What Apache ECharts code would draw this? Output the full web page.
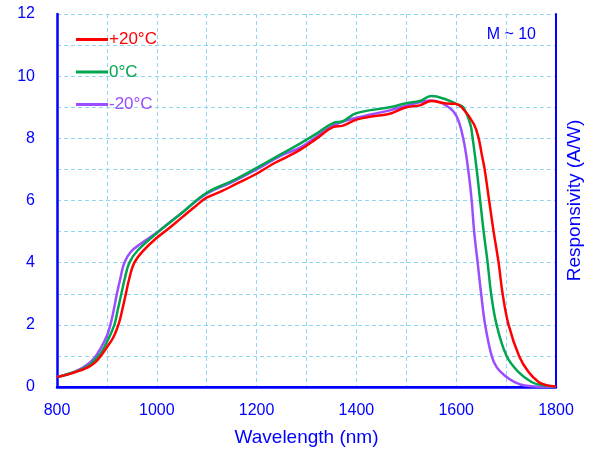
<!DOCTYPE html>
<html>
<head>
<meta charset="utf-8">
<script src="https://cdn.jsdelivr.net/npm/echarts@6/dist/echarts.min.js"></script>
<style>
  html, body { margin: 0; padding: 0; background: #fff; }
  #chart { width: 593px; height: 455px; }
</style>
</head>
<body>
<div id="chart"></div>
<script>
// wavelength (nm) / responsivity (A/W)
var wlP20 = [800, 837, 863, 877, 887, 900, 913, 924, 931, 938, 945, 955, 975, 1000, 1020, 1050, 1080, 1100, 1130, 1160, 1200, 1230, 1253, 1287, 1320, 1353, 1373, 1400, 1430, 1467, 1500, 1527, 1550, 1580, 1598, 1611, 1635, 1645, 1651, 1657, 1666, 1675, 1685, 1693, 1705, 1726, 1745, 1765, 1780, 1800];
var rP20  = [0.32, 0.48, 0.64, 0.8, 0.98, 1.28, 1.6, 2.05, 2.5, 3.0, 3.5, 4.0, 4.42, 4.8, 5.05, 5.45, 5.85, 6.09, 6.3, 6.54, 6.86, 7.15, 7.34, 7.63, 7.99, 8.36, 8.41, 8.6, 8.7, 8.79, 9.0, 9.06, 9.2, 9.12, 9.11, 9.0, 8.47, 8.0, 7.5, 7.0, 6.0, 5.0, 4.0, 3.0, 2.0, 1.0, 0.48, 0.16, 0.06, 0.02];

var wl0 = [800, 837, 863, 877, 887, 900, 915, 922, 929, 936, 945, 962, 1000, 1050, 1100, 1150, 1200, 1250, 1287, 1320, 1353, 1373, 1400, 1467, 1500, 1527, 1550, 1580, 1601, 1614, 1628, 1633, 1641, 1648, 1655, 1663, 1670, 1681, 1701, 1725, 1751, 1771, 1800];
var r0  = [0.32, 0.49, 0.68, 0.9, 1.07, 1.45, 2.0, 2.5, 3.0, 3.5, 4.0, 4.4, 4.95, 5.6, 6.25, 6.62, 7.05, 7.5, 7.83, 8.15, 8.49, 8.55, 8.81, 9.0, 9.13, 9.2, 9.36, 9.25, 9.1, 9.0, 8.47, 8.0, 7.0, 6.0, 5.0, 4.0, 3.0, 2.0, 1.0, 0.48, 0.16, 0.06, 0.02];

var wlM20 = [800, 837, 863, 877, 887, 900, 907, 914, 920, 927, 935, 948, 967, 1003, 1050, 1100, 1150, 1200, 1250, 1287, 1320, 1353, 1400, 1467, 1500, 1550, 1585, 1601, 1614, 1624, 1631, 1636, 1643, 1650, 1658, 1671, 1681, 1697, 1717, 1737, 1800];
var rM20  = [0.32, 0.5, 0.75, 0.98, 1.23, 1.65, 2.0, 2.5, 3.0, 3.5, 4.0, 4.35, 4.6, 5.0, 5.6, 6.22, 6.58, 7.0, 7.45, 7.7, 8.05, 8.41, 8.66, 8.9, 9.05, 9.22, 9.0, 8.7, 8.0, 7.0, 6.0, 5.0, 4.0, 3.0, 2.0, 1.0, 0.64, 0.37, 0.16, 0.05, 0];

var seriesNames = ['+20°C', '0°C', '-20°C'];
var seriesColors = ['#ff0000', '#00a550', '#9b4dff'];
var xTicks = [800, 1000, 1200, 1400, 1600, 1800];
var yTicks = [0, 2, 4, 6, 8, 10, 12];

var blue = '#0000ff';
var gridColor = '#8fd6f2';

function pairs(xs, ys) {
    var out = [];
    for (var i = 0; i < xs.length; i++) out.push([xs[i], ys[i]]);
    return out;
}

var allData = [pairs(wlP20, rP20), pairs(wl0, r0), pairs(wlM20, rM20)];

var series = [];
for (var k = 0; k < seriesNames.length; k++) {
    series.push({
        name: seriesNames[k],
        type: 'line',
        data: allData[k],
        symbol: 'none',
        smooth: 0.4,
        z: 5 - k,
        lineStyle: { color: seriesColors[k], width: 2.5 },
        itemStyle: { color: seriesColors[k] }
    });
}

var legendData = [];
for (var k = 0; k < seriesNames.length; k++) {
    legendData.push({ name: seriesNames[k], textStyle: { color: seriesColors[k] } });
}

var option = {
    animation: false,
    backgroundColor: '#fff',
    textStyle: { fontFamily: 'Liberation Sans, Arial, sans-serif' },
    grid: { left: 57, right: 37, top: 14, bottom: 68, outerBoundsMode: 'none' },
    legend: {
        orient: 'vertical',
        left: 71,
        top: 26,
        icon: 'rect',
        itemWidth: 32,
        itemHeight: 3,
        itemGap: 15.5,
        data: legendData,
        textStyle: { fontSize: 17, padding: [0, 0, 0, -4] }
    },
    graphic: [{
        type: 'text',
        right: 57,
        top: 27,
        style: { text: 'M ~ 10', fill: blue, fontSize: 16, fontFamily: 'Liberation Sans, Arial, sans-serif' }
    }],
    xAxis: [{
        type: 'value',
        min: 800,
        max: 1800,
        interval: 100,
        name: 'Wavelength (nm)',
        nameLocation: 'middle',
        nameGap: 41,
        nameTextStyle: { color: blue, fontSize: 19 },
        axisLine: { show: true, lineStyle: { color: blue, width: 2.5 } },
        axisTick: { show: false },
        axisLabel: {
            color: blue, fontSize: 16, margin: 16,
            formatter: function (v) { return xTicks.indexOf(v) >= 0 ? String(v) : ''; }
        },
        splitLine: { show: true, lineStyle: { color: gridColor, type: [4, 3], width: 1 } }
    }, {
        type: 'value',
        position: 'top',
        min: 800,
        max: 1800,
        axisLine: { show: true, lineStyle: { color: blue, width: 2 } },
        axisTick: { show: false },
        axisLabel: { show: false },
        splitLine: { show: false }
    }],
    yAxis: [{
        type: 'value',
        min: 0,
        max: 12,
        interval: 1,
        axisLine: { show: true, lineStyle: { color: blue, width: 2.5 } },
        axisTick: { show: false },
        axisLabel: {
            color: blue, fontSize: 16, margin: 22,
            formatter: function (v) { return yTicks.indexOf(v) >= 0 ? String(v) : ''; }
        },
        splitLine: { show: true, lineStyle: { color: gridColor, type: [4, 3], width: 1 } }
    }, {
        type: 'value',
        position: 'right',
        min: 0,
        max: 12,
        name: 'Responsivity (A/W)',
        nameLocation: 'middle',
        nameRotate: 90,
        nameGap: 9,
        nameTextStyle: { color: blue, fontSize: 19 },
        axisLine: { show: true, lineStyle: { color: blue, width: 2 } },
        axisTick: { show: false },
        axisLabel: { show: false },
        splitLine: { show: false }
    }],
    series: series
};

var myChart = echarts.init(document.getElementById('chart'));
myChart.setOption(option);
</script>
</body>
</html>
